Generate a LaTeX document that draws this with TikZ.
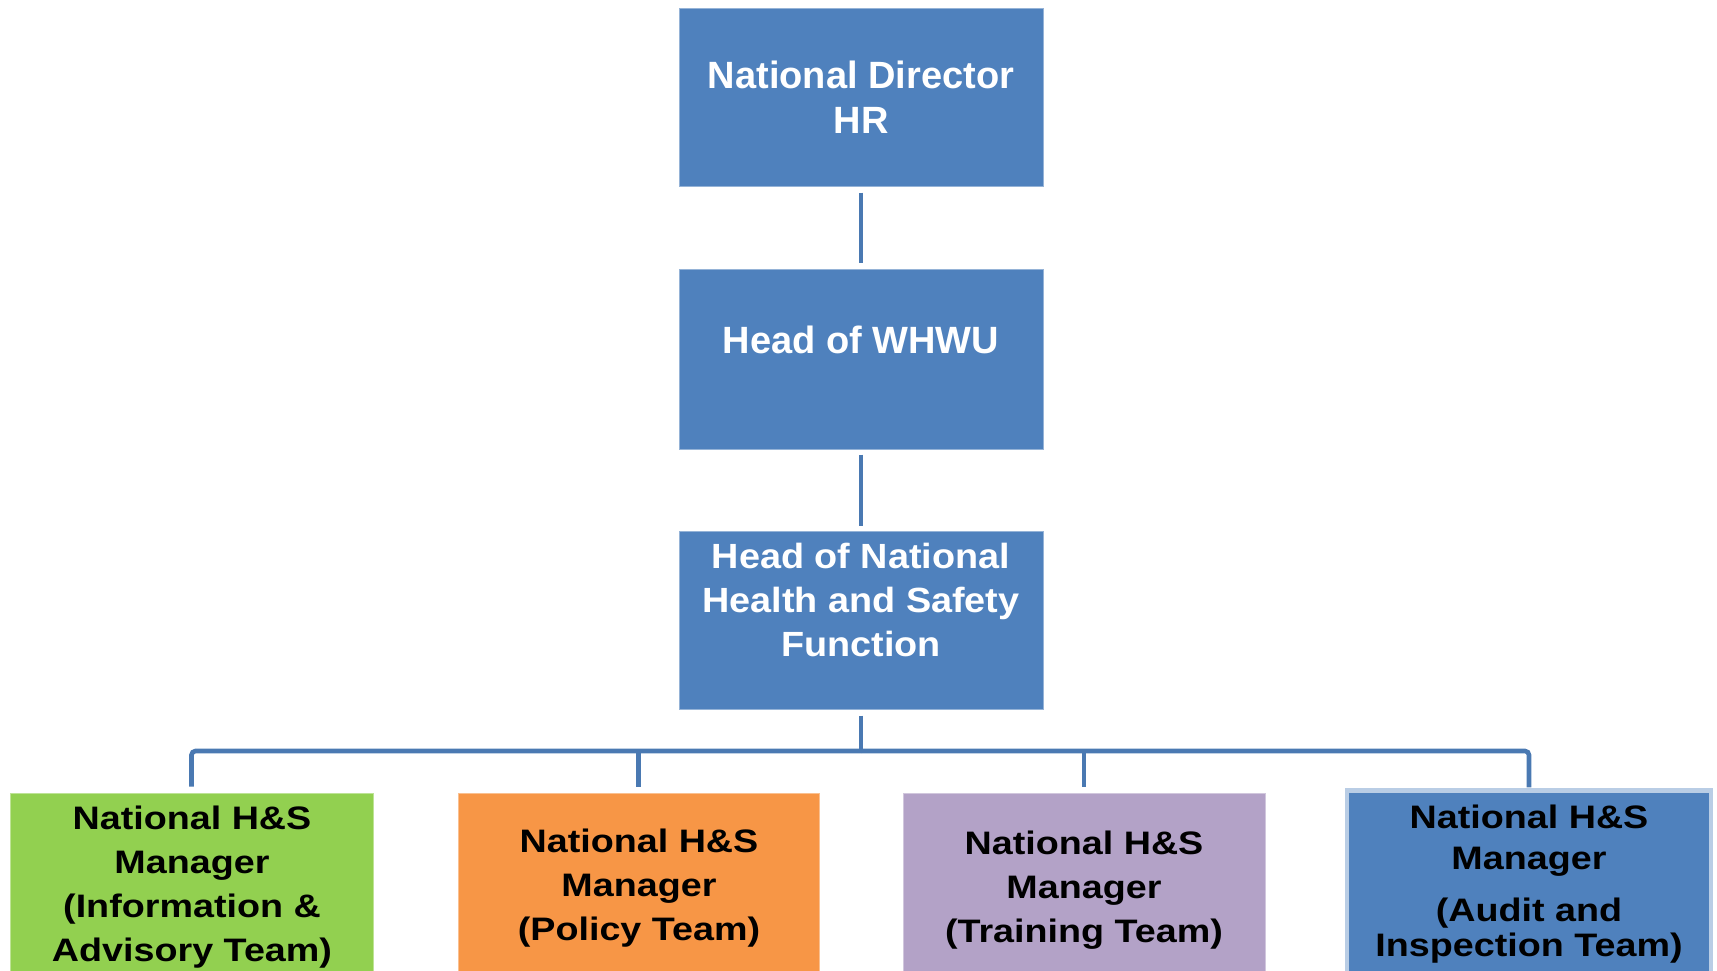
\documentclass[tikz,border=0pt]{standalone}
\usepackage{fontspec}
\setmainfont{Liberation Sans}
\newfontfamily\midfont[FakeStretch=1.08]{Liberation Sans}
\newfontfamily\lowfont[FakeStretch=1.16]{Liberation Sans}
\definecolor{boxblue}{HTML}{4F81BD}
\definecolor{boxgreen}{HTML}{92D050}
\definecolor{boxorange}{HTML}{F79646}
\definecolor{boxpurple}{HTML}{B3A2C7}
\definecolor{linkblue}{HTML}{4A79B2}
\definecolor{rimblue}{HTML}{B9CDE5}
\newcommand{\topstrut}{\rule[0pt]{0pt}{0.966em}}
\newcommand{\botstrut}{\rule[-0.25em]{0pt}{0pt}}
\tikzset{
  orgbox/.style={rectangle, inner sep=0pt, minimum width=#1, minimum height=180pt, draw=white!40!boxblue, line width=1pt},
  label text/.style={inner sep=0pt, align=center, execute at begin node=\topstrut, execute at end node=\botstrut},
  white text/.style={label text, text=white, font=\bfseries\fontsize{38}{45}\selectfont},
  mid text/.style={label text, text=white, font=\midfont\bfseries\fontsize{35}{44}\selectfont},
  dark text/.style={label text, text=black, font=\lowfont\bfseries\fontsize{32.5}{44}\selectfont},
  conn/.style={draw=linkblue, line width=4.6pt},
}
\begin{document}
\begin{tikzpicture}[x=1pt, y=-1pt]
\useasboundingbox (0,0) rectangle (1717,970);
\clip (0,0) rectangle (1717,970);

% upper chain
\node[orgbox=364pt, minimum height=178pt, fill=boxblue] (dir) at (861,97) {};
\node[white text] (dirt) at (861,101.5) {National Director\\HR};

\node[orgbox=364pt, minimum height=180pt, fill=boxblue] (whwu) at (861,359) {};
\node[white text] (whwut) at (861,340) {Head of WHWU};

\node[orgbox=364pt, minimum height=178pt, fill=boxblue] (hnhs) at (861,620) {};
\node[mid text] (hnhst) at (861,604) {Head of National\\Health and Safety\\Function};

% team managers
\node[orgbox=363pt, minimum height=182pt, fill=boxgreen, draw=white!40!boxgreen] (m1) at (191.5,884) {};
\node[dark text] (m1t) at (192,888) {National H\&S\\Manager\\(Information \&\\Advisory Team)};

\node[orgbox=361pt, minimum height=182pt, fill=boxorange, draw=white!40!boxorange] (m2) at (638.5,884) {};
\node[dark text] (m2t) at (639,889) {National H\&S\\Manager\\(Policy Team)};

\node[orgbox=362pt, minimum height=182pt, fill=boxpurple, draw=white!40!boxpurple] (m3) at (1084,884) {};
\node[dark text] (m3t) at (1084,890.5) {National H\&S\\Manager\\(Training Team)};

\node[orgbox=364pt, minimum height=186pt, fill=boxblue, draw=rimblue, line width=4.5pt] (m4) at (1529,883.5) {};
\node[dark text] (m4t) at (1529,885) {National H\&S\\[-3pt]Manager\\[8.5pt](Audit and\\[-9pt]Inspection Team)};

% connectors
\coordinate (bus) at (861,751);
\draw[conn] ([yshift=-6pt]dir.south) -- ([yshift=6pt]whwu.north);
\draw[conn] ([yshift=-5pt]whwu.south) -- ([yshift=5pt]hnhs.north);
\draw[conn] ([yshift=-6pt]hnhs.south) -- (bus);
\draw[conn, rounded corners=4pt] (bus) -| ([yshift=6pt]m1.north);
\draw[conn, rounded corners=4pt] (bus) -| ([yshift=1pt]m4.north);
\draw[conn] (bus) -| ([yshift=6pt]m2.north);
\draw[conn] (bus) -| ([yshift=6pt]m3.north);
\end{tikzpicture}
\end{document}
